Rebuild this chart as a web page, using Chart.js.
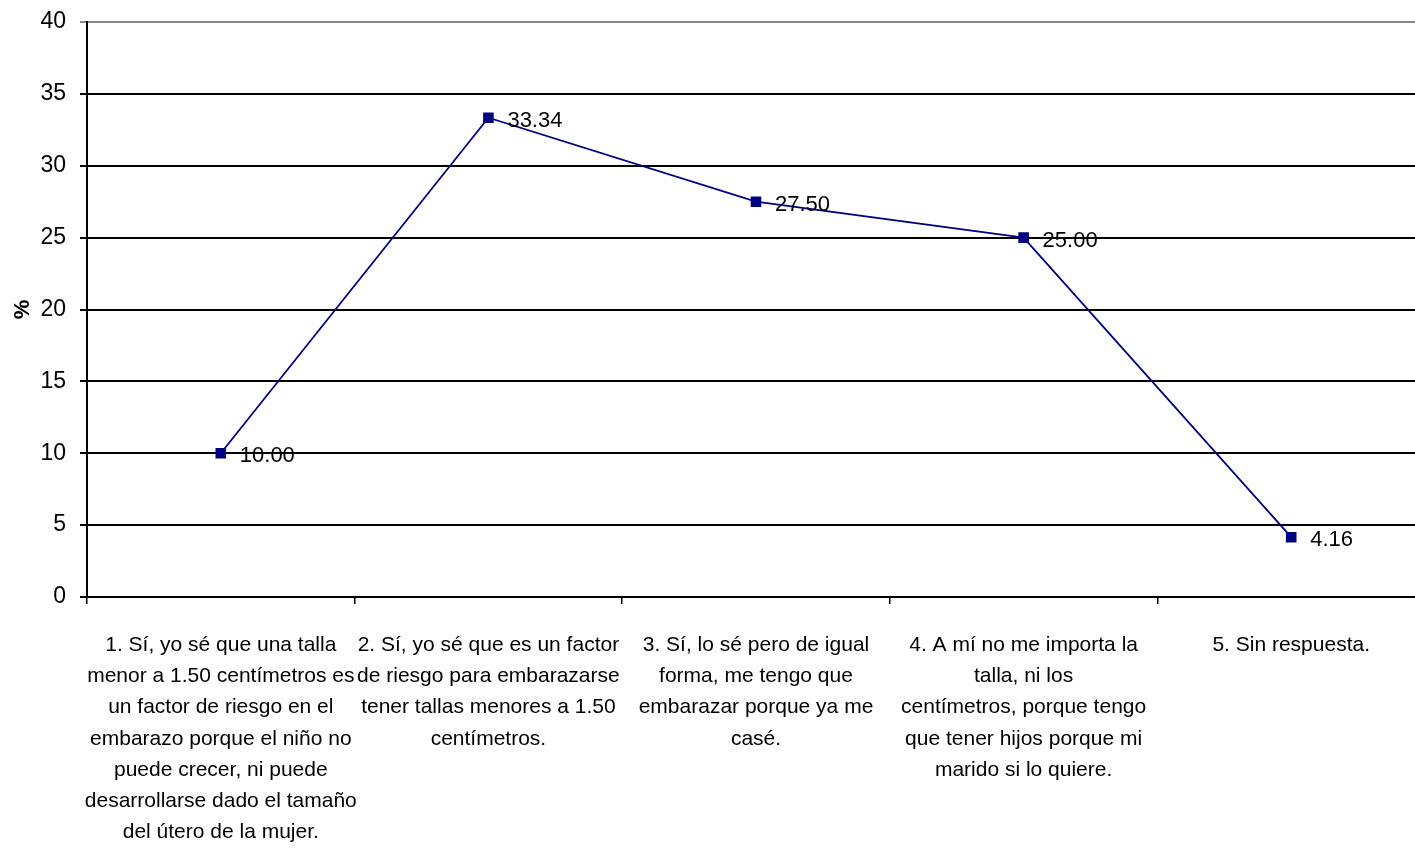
<!DOCTYPE html>
<html>
<head>
<meta charset="utf-8">
<script src="https://cdn.jsdelivr.net/npm/chart.js@4/dist/chart.umd.min.js"></script>
<style>
  html, body { margin: 0; padding: 0; background: #fff; overflow: hidden; }
  /* the plot runs a little past the right edge, as in the original */
  #wrap { width: 1415px; height: 851px; overflow: hidden; }
  canvas { display: block; }
</style>
</head>
<body>
<div id="wrap"><canvas id="chart" width="1425" height="851"></canvas></div>
<script>
// Chart data
const categories = [
    ['1. Sí, yo sé que una talla', 'menor a 1.50 centímetros es', 'un factor de riesgo en el', 'embarazo porque el niño no', 'puede crecer, ni puede', 'desarrollarse dado el tamaño', 'del útero de la mujer.'],
    ['2. Sí, yo sé que es un factor', 'de riesgo para embarazarse', 'tener tallas menores a 1.50', 'centímetros.'],
    ['3. Sí, lo sé pero de igual', 'forma, me tengo que', 'embarazar porque ya me', 'casé.'],
    ['4. A mí no me importa la', 'talla, ni los', 'centímetros, porque tengo', 'que tener hijos porque mi', 'marido si lo quiere.'],
    ['5. Sin respuesta.']
];
const percentValues = [10.00, 33.34, 27.50, 25.00, 4.16];
const yTicks = [0, 5, 10, 15, 20, 25, 30, 35, 40];

const FONT = "'Liberation Sans Narrow', 'Arial Narrow', 'Liberation Sans', sans-serif";

// Value labels to the right of each point
const valueLabels = {
    id: 'valueLabels',
    afterDatasetsDraw(chart) {
        const ctx = chart.ctx;
        const meta = chart.getDatasetMeta(0);
        ctx.save();
        ctx.font = '22px ' + FONT;
        ctx.fillStyle = '#000';
        ctx.textAlign = 'left';
        ctx.textBaseline = 'middle';
        meta.data.forEach((pt, i) => {
            ctx.fillText(percentValues[i].toFixed(2), pt.x + 19, pt.y + 3);
        });
        ctx.restore();
    }
};

const ctx = document.getElementById('chart').getContext('2d');
const chart = new Chart(ctx, {
    type: 'line',
    data: {
        labels: categories,
        datasets: [{
            data: percentValues,
            borderColor: '#000080',
            backgroundColor: '#000080',
            borderWidth: 1.8,
            pointStyle: 'rect',
            pointRadius: 7.5,
            pointHoverRadius: 7.5,
            pointBorderWidth: 0,
            tension: 0
        }]
    },
    options: {
        responsive: false,
        animation: false,
        layout: { autoPadding: false, padding: { top: 22, right: 0, bottom: 0, left: 0 } },
        plugins: {
            legend: { display: false },
            tooltip: { enabled: false }
        },
        scales: {
            x: {
                offset: true,
                grid: {
                    offset: true,
                    drawOnChartArea: false,
                    drawTicks: true,
                    tickLength: 7,
                    color: '#000',
                    lineWidth: 1.5
                },
                border: { display: false },
                ticks: {
                    autoSkip: false,
                    maxRotation: 0,
                    minRotation: 0,
                    padding: 26,
                    color: '#000',
                    font: { family: FONT, size: 21, lineHeight: 1.48 }
                },
                afterFit(scale) {
                    scale.height = 254;
                    scale.paddingLeft = 0;
                    scale.paddingRight = 0;
                }
            },
            y: {
                min: 0,
                max: 40,
                afterBuildTicks(scale) { scale.ticks = yTicks.map(v => ({ value: v })); },
                grid: {
                    color: ctx => ctx.tick && ctx.tick.value === 40 ? '#888' : '#000',
                    lineWidth: 2,
                    tickLength: 7
                },
                border: { display: true, color: '#000', width: 2 },
                ticks: {
                    padding: 14,
                    color: '#000',
                    font: { family: FONT, size: 23 }
                },
                title: {
                    display: true,
                    text: '%',
                    color: '#000',
                    font: { family: FONT, size: 22, weight: 'bold' },
                    padding: { top: 10, bottom: 0 }
                },
                afterFit(scale) {
                    scale.width = 87;
                    scale.paddingTop = 0;
                    scale.paddingBottom = 0;
                }
            }
        }
    },
    plugins: [valueLabels]
});
</script>
</body>
</html>
